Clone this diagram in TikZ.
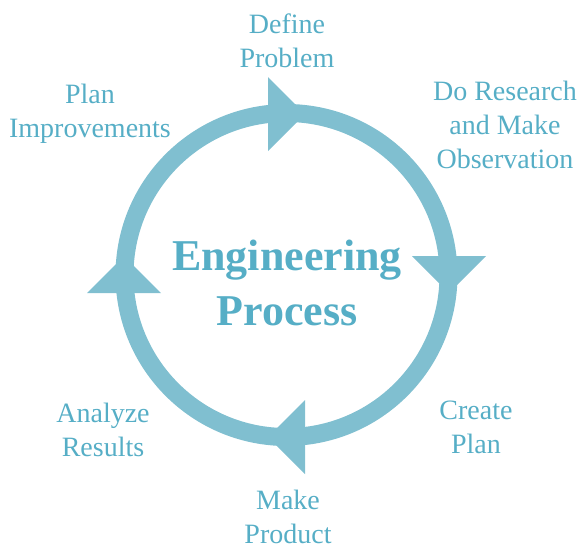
\documentclass[tikz,border=0pt]{standalone}
\usepackage{fontspec}
\setmainfont{Liberation Serif}
\usepackage{xcolor}
\usepackage{tikz}
\usetikzlibrary{calc,positioning}
\definecolor{ringblue}{RGB}{128,191,208}
\definecolor{textblue}{RGB}{86,174,198}
\tikzset{lbl/.style={text=textblue,align=center,inner sep=0pt,font=\fontsize{28}{34}\selectfont},
         title/.style={text=textblue,align=center,inner sep=0pt,font=\bfseries\fontsize{44}{55}\selectfont},
         head/.style={fill=ringblue}}

\begin{document}
\begin{tikzpicture}[x=1pt,y=-1pt]
            \useasboundingbox (0,0) rectangle (581,550);
            \coordinate (c) at (286.5,275);
            \draw[ringblue,line width=18pt] (c) circle (162);
            \fill[head] (268,77) -- (305,114) -- (268,151) -- cycle;
            \fill[head] (412,256) -- (449,293) -- (486,256) -- cycle;
            \fill[head] (305,400) -- (268,437) -- (305,474) -- cycle;
            \fill[head] (87,293) -- (124,256) -- (161,293) -- cycle;
            \node[title] (proc) at (287,283) {Engineering\\Process};
            \node[lbl] (define) at (287,41) {Define\\Problem};
            \node[lbl] (research) at (505,125) {Do Research\\and Make\\Observation};
            \node[lbl] (create) at (476,427) {Create\\Plan};
            \node[lbl] (make) at (288,517) {Make\\Product};
            \node[lbl] (analyze) at (103,430) {Analyze\\Results};
            \node[lbl] (improve) at (90,114) {Plan\\Improvements};
        \end{tikzpicture}
\end{document}
